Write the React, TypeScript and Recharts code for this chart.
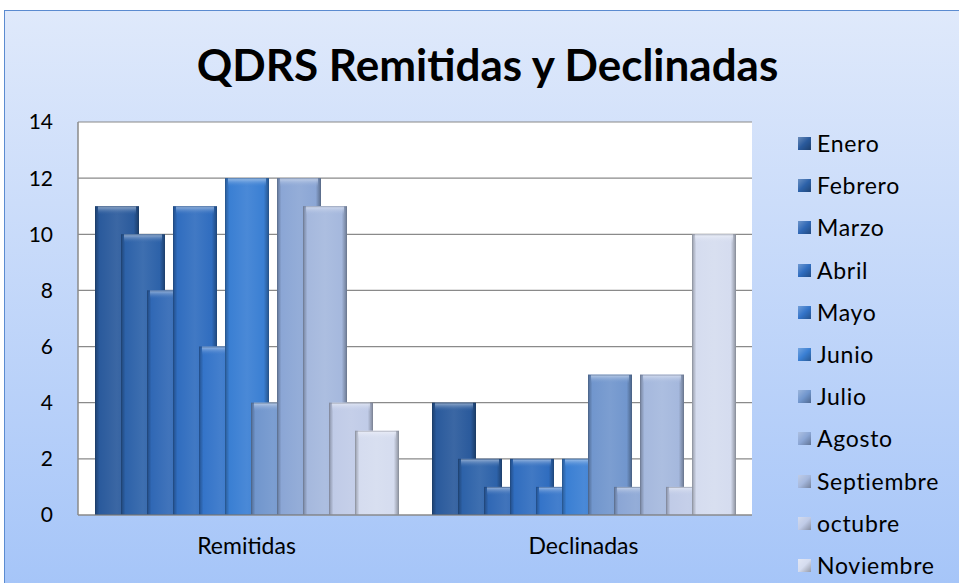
import React from "react";
import { BarChart, Bar, XAxis, YAxis, CartesianGrid } from "recharts";

const categories = ["Remitidas", "Declinadas"];
const months = [
  "Enero",
  "Febrero",
  "Marzo",
  "Abril",
  "Mayo",
  "Junio",
  "Julio",
  "Agosto",
  "Septiembre",
  "octubre",
  "Noviembre",
];
const remitidas = [11, 10, 8, 11, 6, 12, 4, 12, 11, 4, 3];
const declinadas = [4, 2, 1, 2, 1, 2, 5, 1, 5, 1, 10];
const yTicks = [0, 2, 4, 6, 8, 10, 12, 14];
const colors = [
  "#2a5a9c",
  "#2d62a9",
  "#3068b5",
  "#306dbf",
  "#3474c9",
  "#3a7fd3",
  "#7196cd",
  "#8ba6d5",
  "#a5b8dd",
  "#c0cbe7",
  "#d5dcef",
];

const data = categories.map((name, ci) => {
  const row: Record<string, string | number> = { name };
  months.forEach((m, i) => {
    row[m] = ci === 0 ? remitidas[i] : declinadas[i];
  });
  return row;
});

function mix(hex: string, target: string, t: number) {
  const a = parseInt(hex.slice(1), 16);
  const b = parseInt(target.slice(1), 16);
  const ch = (v: number, s: number) => (v >> s) & 255;
  const c = [16, 8, 0].map((s) =>
    Math.round(ch(a, s) + (ch(b, s) - ch(a, s)) * t)
  );
  return "#" + c.map((v) => v.toString(16).padStart(2, "0")).join("");
}

const font = "Lato, 'Open Sans', sans-serif";

function BevelBar(props: any) {
  const { x, y, width, height, si } = props;
  if (!height || height <= 0) return null;
  const top = Math.min(9, height);
  return (
    <g>
      <rect x={x} y={y} width={width} height={height} fill={`url(#side${si})`} />
      <rect x={x + 3} y={y} width={width - 6} height={top} fill={`url(#top${si})`} />
      <rect
        x={x + 0.5}
        y={y + 0.5}
        width={width - 1}
        height={height - 1}
        fill="none"
        stroke={mix(colors[si], "#000000", 0.35)}
        strokeOpacity={0.5}
      />
    </g>
  );
}

export default function App() {
  return (
    <div
      style={{
        position: "fixed",
        left: 0,
        top: 0,
        width: 959,
        height: 583,
        overflow: "hidden",
        background: "#ffffff",
        fontFamily: font,
      }}
    >
      <div
        style={{
          position: "absolute",
          left: 4,
          top: 10,
          width: 970,
          height: 590,
          border: "1.5px solid #5b8bd0",
          background: "linear-gradient(to bottom, #dfe9fb, #a4c4f8)",
        }}
      />
      <div
        style={{
          position: "absolute",
          left: 0,
          top: 38,
          width: 975,
          textAlign: "center",
          fontSize: 44,
          lineHeight: "52px",
          fontWeight: 700,
          color: "#000",
        }}
      >
        QDRS Remitidas y Declinadas
      </div>
      <div style={{ position: "absolute", left: 0, top: 0 }}>
        <BarChart
          width={959}
          height={583}
          data={data}
          barSize={44}
          barGap={-18}
          margin={{ top: 122, right: 207, bottom: 34, left: 18 }}
        >
          <defs>
            {colors.map((c, i) => (
              <React.Fragment key={i}>
                <linearGradient id={`side${i}`} x1="0" y1="0" x2="1" y2="0">
                  <stop offset="0%" stopColor={mix(c, "#000000", 0.3)} />
                  <stop offset="10%" stopColor={c} />
                  <stop offset="50%" stopColor={mix(c, "#ffffff", 0.08)} />
                  <stop offset="88%" stopColor={c} />
                  <stop offset="100%" stopColor={mix(c, "#000000", 0.35)} />
                </linearGradient>
                <linearGradient id={`top${i}`} x1="0" y1="0" x2="0" y2="1">
                  <stop offset="0%" stopColor={mix(c, "#ffffff", 0.55)} />
                  <stop offset="100%" stopColor={c} stopOpacity={0} />
                </linearGradient>
              </React.Fragment>
            ))}
          </defs>
          <CartesianGrid
            vertical={false}
            stroke="#8a8a8a"
            strokeWidth={1.2}
            fill="#ffffff"
            fillOpacity={1}
          />
          <XAxis
            dataKey="name"
            tickLine={false}
            axisLine={{ stroke: "#8a8a8a", strokeWidth: 1.2 }}
            tick={{ fill: "#000", fontSize: 23, fontFamily: font }}
            tickMargin={17}
            height={34}
          />
          <YAxis
            domain={[0, 14]}
            ticks={yTicks}
            interval={0}
            tickLine={false}
            axisLine={{ stroke: "#8a8a8a", strokeWidth: 1.5 }}
            tick={{ fill: "#000", fontSize: 21, fontFamily: font }}
            tickSize={0}
            tickMargin={25}
            width={60}
          />
          {months.map((m, i) => (
            <Bar
              key={m}
              dataKey={m}
              fill={colors[i]}
              isAnimationActive={false}
              shape={(p: any) => <BevelBar {...p} si={i} />}
            />
          ))}
        </BarChart>
      </div>
      <div style={{ position: "absolute", left: 798, top: 129 }}>
        {months.map((m, i) => (
          <div
            key={m}
            style={{
              height: 42.2,
              display: "flex",
              alignItems: "flex-start",
              fontSize: 23,
              lineHeight: "28px",
              letterSpacing: 0.7,
              color: "#000",
            }}
          >
            <span
              style={{
                display: "inline-block",
                width: 13,
                height: 13,
                marginTop: 8,
                marginRight: 6,
                background: `linear-gradient(135deg, ${mix(colors[i], "#ffffff", 0.3)}, ${colors[i]} 50%, ${mix(colors[i], "#000000", 0.3)})`,
              }}
            />
            {m}
          </div>
        ))}
      </div>
    </div>
  );
}
